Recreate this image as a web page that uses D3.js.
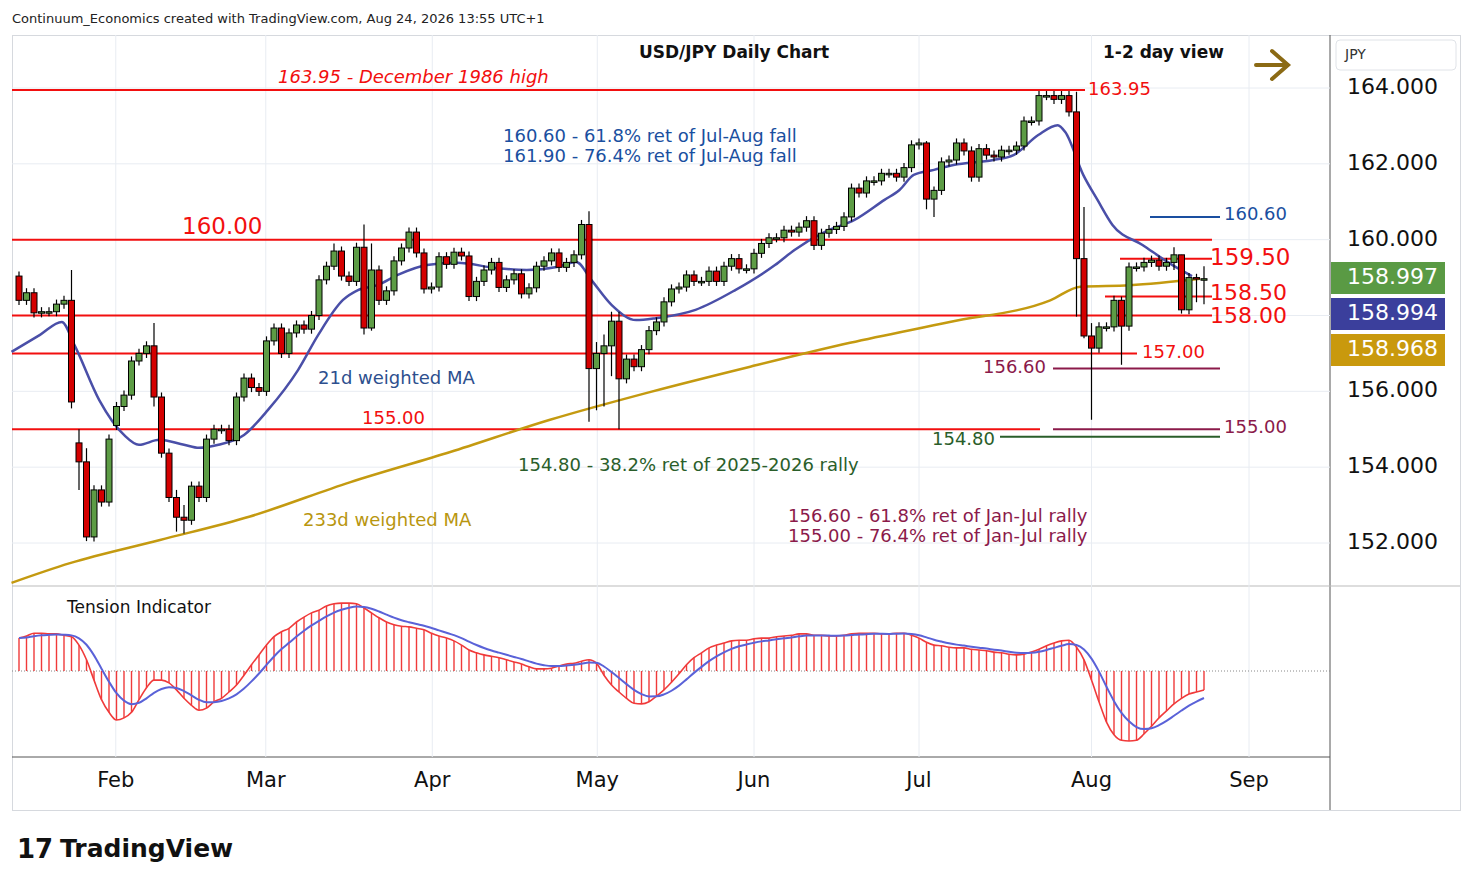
<!DOCTYPE html>
<html><head><meta charset="utf-8">
<script src="https://cdn.jsdelivr.net/npm/d3@7"></script>
<style>
body{margin:0;background:#fff;font-family:"DejaVu Sans",sans-serif;}
svg text{font-family:"DejaVu Sans",sans-serif;}
</style></head><body>
<svg id="chart" width="1474" height="887"></svg>
<script>
// daily closes, mid-Jan to Aug 24
var closes = [158.4,158.6,158.07,158.1,158.1,158.3,158.4,155.72,154.14,152.16,153.4,153.08,154.74,155.6,155.9,156.8,157.0,157.2,155.85,154.37,
  153.2,152.68,152.6,153.5,153.2,154.74,155.0,155.0,154.7,155.85,156.35,156.1,156.0,157.33,157.67,157.0,157.54,157.75,157.64,158.0,158.94,159.3,159.7,
  159.04,158.9,159.8,157.67,159.2,158.4,158.65,159.44,159.78,160.2,159.65,158.7,158.75,159.55,159.35,159.67,159.57,158.5,158.9,159.2,
  159.4,158.74,158.94,159.1,158.57,158.73,159.3,159.44,159.65,159.27,159.4,159.6,160.4,156.6,157.0,157.2,157.85,156.33,156.85,156.65,157.1,157.6,157.83,
  158.36,158.7,158.75,159.07,158.9,158.9,159.17,158.9,159.3,159.5,159.23,159.23,159.64,159.9,160.05,160.05,160.25,160.2,160.33,160.5,
  159.85,160.17,160.27,160.35,160.6,161.36,161.23,161.55,161.55,161.75,161.75,161.65,161.9,162.5,162.55,161.07,161.3,162.05,162.1,162.55,162.34,161.65,162.4,
  162.23,162.18,162.36,162.36,162.47,163.13,163.13,163.8,163.8,163.7,163.8,163.37,159.5,157.46,157.14,157.7,157.7,158.4,157.72,159.28,
  159.28,159.4,159.46,159.3,159.4,159.6,158.15,159.0,158.97,158.97];
var gapOpens = [[0,159.04],[8,154.64],[13,155.1]];
var longWicks = [[7,159.2,155.55],[8,155.0,153.4],[9,154.5,152.05],[18,157.8,155.6],[21,153.4,152.3],[22,153.0,152.25],
  [42,159.9,159.2],[46,160.4,157.5],[47,159.9,157.6],[76,160.75,155.2],[77,157.3,155.5],[78,157.5,155.6],[79,158.1,156.4],[80,158.1,155.0],
  [121,162.6,160.8],[122,161.4,160.6],[141,163.9,157.97],[142,160.86,157.4],[143,157.8,155.25],[147,158.5,156.7],[154,159.8,159.2],
  [155,159.6,158.05],[157,159.1,158.35],[158,159.3,158.3]];
// 21d weighted MA [bar, price]
var ma21 = [[-1,157.04],[2.8,157.49],[5.7,157.83],[7.4,157.22],[10.7,155.77],[14,154.85],[16,154.59],[18.7,154.72],[22,154.59],[24,154.51],
  [26.6,154.59],[30,154.85],[33.2,155.51],[37.2,156.56],[39.9,157.49],[43.2,158.41],[45.2,158.67],[47.8,158.8],[50.5,159.07],[54.4,159.33],
  [58.4,159.39],[63.7,159.25],[67.7,159.2],[71.7,159.28],[74.3,159.41],[76.3,158.94],[79,158.28],[82.3,157.88],[84.9,157.93],[90.2,158.15],
  [95.5,158.67],[100.8,159.33],[103.4,159.73],[107.4,160.2],[111.4,160.52],[115.4,161.05],[117.4,161.31],[119.3,161.71],[122,161.84],
  [124.6,161.97],[129.9,162.1],[132.6,162.23],[135.9,162.76],[138.5,163.02],[139.5,162.84],[141.9,161.71],[143.8,161.05],[145.8,160.39],
  [149.8,159.86],[153.8,159.33],[156.4,159.04]];
// 233d weighted MA [bar, price]
var ma233 = [[-1,150.95],[6.8,151.47],[18.8,152.08],[30.8,152.7],[44.1,153.6],[57.5,154.4],[70.8,155.25],[84.1,155.98],[97.5,156.65],
  [110.8,157.28],[124.1,157.83],[137.5,158.4],[141.5,158.76],[148.1,158.8],[157.5,158.97]];
// tension indicator, one value per bar
var tension = [.47,.5,.54,.54,.53,.53,.51,.49,.37,.16,-.13,-.41,-.59,-.7,-.67,-.59,-.41,-.24,-.13,-.13,-.17,-.27,-.39,-.49,-.56,-.53,-.44,-.39,-.3,-.2,
  -.06,.09,.23,.37,.49,.56,.61,.7,.77,.83,.87,.93,.96,.97,.97,.96,.9,.83,.76,.7,.66,.64,.63,.61,.59,.54,.5,.47,.43,.37,
  .3,.26,.23,.21,.19,.16,.13,.1,.06,.03,.03,.04,.07,.1,.11,.14,.16,.11,-.06,-.2,-.3,-.39,-.46,-.47,-.44,-.36,-.27,-.16,-.04,.09,
  .19,.26,.33,.37,.4,.43,.44,.44,.46,.47,.47,.49,.5,.51,.53,.53,.51,.51,.5,.5,.51,.53,.54,.54,.54,.53,.53,.54,.54,.51,
  .47,.41,.37,.36,.34,.33,.33,.31,.3,.29,.27,.26,.24,.23,.24,.27,.31,.36,.4,.43,.44,.34,.16,-.13,-.44,-.73,-.91,-.99,-1.0,-.99,
  -.9,-.79,-.67,-.57,-.47,-.39,-.33,-.3,-.27];
var months = ["Feb","Mar","Apr","May","Jun","Jul","Aug","Sep"];
var monthBars = [12.9,32.9,55.1,77.1,98,120,143,164];
var priceTicks = [164,162,160,156,154,152];
var priceTags = [[158.997,"#5a9a44"],[158.994,"#3b3f9c"],[158.968,"#c9990d"]];

var svg = d3.select("#chart");
var x = d3.scaleLinear().domain([0,158]).range([19,1204]);
var y = d3.scaleLinear().domain([152,164]).range([543,88]);
var yt = d3.scaleLinear().domain([-1,1]).range([741,601]);

// frame and grid
svg.append("rect").attr("x",12.5).attr("y",35.5).attr("width",1448).attr("height",775).attr("fill","none").attr("stroke","#d6d9de");
svg.append("line").attr("x1",1330).attr("x2",1330).attr("y1",35).attr("y2",810).attr("stroke","#555").attr("stroke-width",1);
svg.append("line").attr("x1",12).attr("x2",1460).attr("y1",586).attr("y2",586).attr("stroke","#bbb");
svg.append("line").attr("x1",12).attr("x2",1330).attr("y1",757).attr("y2",757).attr("stroke","#555");
var gridVals = [164,162,160,158,156,154,152];
svg.selectAll(".hg").data(gridVals).enter().append("line").attr("x1",12).attr("x2",1330)
  .attr("y1",d=>y(d)).attr("y2",d=>y(d)).attr("stroke","#e8ecf2");
svg.selectAll(".vg").data(monthBars).enter().append("line").attr("x1",d=>x(d)).attr("x2",d=>x(d))
  .attr("y1",35).attr("y2",757).attr("stroke","#e8ecf2");
svg.append("line").attr("x1",12).attr("x2",1330).attr("y1",yt(0)).attr("y2",yt(0)).attr("stroke","#888").attr("stroke-dasharray","1,2");

// level lines
function hline(p,x1,x2,col,w){svg.append("line").attr("x1",x1).attr("x2",x2).attr("y1",y(p)).attr("y2",y(p)).attr("stroke",col).attr("stroke-width",w||2);}
function label(t,xx,yy,col,size,opt){var e=svg.append("text").attr("x",xx).attr("y",yy).attr("fill",col).attr("font-size",size).attr("dominant-baseline","middle").text(t);
  if(opt&&opt.bold)e.attr("font-weight","bold"); if(opt&&opt.italic)e.attr("font-style","italic"); if(opt&&opt.anchor)e.attr("text-anchor",opt.anchor); return e;}
var red="#f20f0f";
hline(163.95,12,1085,red); hline(160,12,1212,red); hline(158,12,1212,red); hline(157,12,1137,red); hline(155,12,1040,red);
hline(159.5,1120,1212,red); hline(158.5,1105,1212,red);
hline(160.6,1150,1220,"#1a4fa0"); hline(156.6,1053,1220,"#8b1a4a"); hline(155,1053,1220,"#8b1a4a"); hline(154.8,1000,1220,"#2a5e2a");

// moving averages
var line = d3.line().x(d=>x(d[0])).y(d=>y(d[1])).curve(d3.curveMonotoneX);
svg.append("path").attr("d",line(ma233)).attr("fill","none").attr("stroke","#c49a10").attr("stroke-width",2.5);
svg.append("path").attr("d",line(ma21)).attr("fill","none").attr("stroke","#4a4fa8").attr("stroke-width",2.5);

// candles
var bars = closes.map(function(c,i){
  var o = i>0 ? closes[i-1] : c;
  gapOpens.forEach(g=>{ if(g[0]===i) o=g[1]; });
  var h = Math.max(o,c)+0.12, l = Math.min(o,c)-0.12;
  longWicks.forEach(w=>{ if(w[0]===i){h=w[1];l=w[2];} });
  return {i:i,o:o,c:c,h:h,l:l};
});
var cg = svg.append("g");
cg.selectAll(".wk").data(bars).enter().append("line").attr("x1",d=>x(d.i)).attr("x2",d=>x(d.i))
  .attr("y1",d=>y(d.h)).attr("y2",d=>y(d.l)).attr("stroke","#000").attr("stroke-width",1.2);
cg.selectAll(".bd").data(bars).enter().append("rect").attr("x",d=>x(d.i)-3).attr("width",6)
  .attr("y",d=>y(Math.max(d.o,d.c))).attr("height",d=>Math.max(1.5,Math.abs(y(d.o)-y(d.c))))
  .attr("fill",d=>d.c>=d.o?"#5d9c45":"#d40000").attr("stroke","#000").attr("stroke-width",1);

// tension indicator
var tg = svg.append("g");
tg.selectAll(".tb").data(tension).enter().append("line").attr("x1",(d,i)=>x(i)).attr("x2",(d,i)=>x(i))
  .attr("y1",yt(0)).attr("y2",d=>yt(d)).attr("stroke","#f03a3a").attr("stroke-width",1.4);
var sig=[],s=tension[0];
tension.forEach(function(v){s=s+0.3*(v-s);sig.push(s);});
var tl = d3.line().x((d,i)=>x(i)).y(d=>yt(d)).curve(d3.curveMonotoneX);
tg.append("path").attr("d",tl(tension)).attr("fill","none").attr("stroke","#f03a3a").attr("stroke-width",1.6);
tg.append("path").attr("d",tl(sig)).attr("fill","none").attr("stroke","#5a62d8").attr("stroke-width",2);

// annotations
label("Continuum_Economics created with TradingView.com, Aug 24, 2026 13:55 UTC+1",12,19,"#222",13);
label("USD/JPY Daily Chart",734,53,"#111",17,{bold:true,anchor:"middle"});
label("1-2 day view",1103,53,"#111",17,{bold:true});
svg.append("path").attr("d","M1256,65 L1286,65 M1272,51 L1288,65 L1272,79").attr("fill","none").attr("stroke","#8b6a14").attr("stroke-width",4).attr("stroke-linecap","round");
label("163.95 - December 1986 high",278,78,red,18,{italic:true});
label("163.95",1088,90,red,18);
label("160.60 - 61.8% ret of Jul-Aug fall",503,137,"#1a4fa0",18);
label("161.90 - 76.4% ret of Jul-Aug fall",503,157,"#1a4fa0",18);
label("160.00",182,227,red,23);
label("160.60",1224,215,"#1a4fa0",18);
label("159.50",1210,258,red,23);
label("158.50",1210,294,red,22);
label("158.00",1210,317,red,22);
label("157.00",1142,353,red,18);
label("156.60",983,368,"#8b1a4a",18);
label("21d weighted MA",318,379,"#2d4f8e",18);
label("155.00",362,419,red,18);
label("155.00",1224,428,"#8b1a4a",18);
label("154.80",932,440,"#2a5e2a",18);
label("154.80 - 38.2% ret of 2025-2026 rally",518,466,"#2a5e2a",18);
label("233d weighted MA",303,521,"#b8960f",18);
label("156.60 - 61.8% ret of Jan-Jul rally",788,517,"#8b1a4a",18);
label("155.00 - 76.4% ret of Jan-Jul rally",788,537,"#8b1a4a",18);
label("Tension Indicator",67,608,"#111",17);

// right price axis
svg.append("rect").attr("x",1336).attr("y",40).attr("width",120).attr("height",30).attr("rx",4).attr("fill","#fff").attr("stroke","#e0e3e8");
label("JPY",1345,55,"#333",14);
svg.selectAll(".pt").data(priceTicks).enter().append("text").attr("x",1347).attr("y",d=>y(d)).attr("dominant-baseline","middle")
  .attr("font-size",22).attr("fill","#111").text(d=>d.toFixed(3));
var tagY=[278,314,350];
priceTags.forEach(function(t,k){
  svg.append("rect").attr("x",1331).attr("y",tagY[k]-16).attr("width",114).attr("height",32).attr("fill",t[1]);
  label(t[0].toFixed(3),1347,tagY[k],"#fff",22);
});

// bottom axis
svg.selectAll(".mt").data(months).enter().append("text").attr("x",(d,i)=>x(monthBars[i])).attr("y",781)
  .attr("text-anchor","middle").attr("dominant-baseline","middle").attr("font-size",21).attr("fill","#111").text(d=>d);

// logo
label("17",17,850,"#111",26,{bold:true});
label("TradingView",60,850,"#111",25,{bold:true});
</script></body></html>
